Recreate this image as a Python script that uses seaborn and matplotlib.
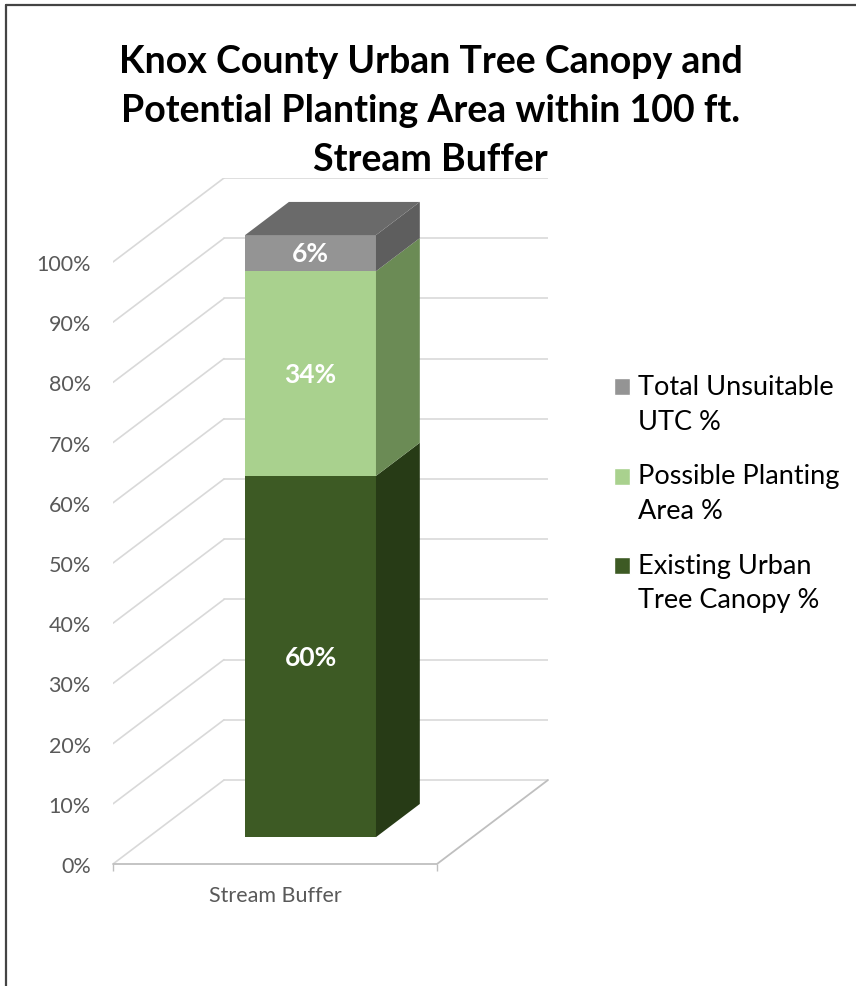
import numpy as np
import pandas as pd
import matplotlib
matplotlib.use("Agg")
import matplotlib.pyplot as plt
import seaborn as sns
from matplotlib.patches import Patch, Polygon, Rectangle
from matplotlib.lines import Line2D
from matplotlib.legend_handler import HandlerPatch

# data
CATEGORY = "Stream Buffer"
SERIES = ["Existing Urban\nTree Canopy %", "Possible Planting\nArea %", "Total Unsuitable\nUTC %"]
VALUES = [60, 34, 6]
LABELS = ["60%", "34%", "6%"]
YTICKS = [0, 10, 20, 30, 40, 50, 60, 70, 80, 90, 100]

FRONT = ["#3D5A24", "#A9D18E", "#949494"]
SIDE = ["#273B16", "#6B8B55", "#5E5E5E"]
TOP = "#6A6A6A"

# oblique "3-D" geometry (data units)
DEPTH_X = 0.3426          # full floor depth along x
DEPTH_Y = 13.95           # full floor depth along y
D0, D1 = 0.32, 0.715      # bar front / back depth fraction
BAR_W = 0.404

sns.set_style("white")
plt.rcParams["font.family"] = ["Lato", "DejaVu Sans"]

fig = plt.figure(figsize=(8.56, 9.87), dpi=100)
ax = fig.add_axes([113 / 856, 122 / 987, 435 / 856, 686 / 987])

df = pd.DataFrame({"cat": [CATEGORY] * 3, "series": SERIES, "value": VALUES})
df["top"] = df["value"].cumsum()
df["bottom"] = df["top"] - df["value"]

# stacked bars: draw cumulative totals, tallest first
for i in reversed(range(len(df))):
    sns.barplot(x=[CATEGORY], y=[df["top"].iloc[i]], color=FRONT[i], saturation=1,
                width=BAR_W, linewidth=0, ax=ax, zorder=3)

ax.set_xlim(-0.5, 0.5 + DEPTH_X)
ax.set_ylim(0, 100 + DEPTH_Y)

# push bar fronts back into the box
for p in ax.patches:
    p.set_x(p.get_x() + D0 * DEPTH_X)
    p.set_y(p.get_y() + D0 * DEPTH_Y)


def proj(x, y, d):
    return (x + d * DEPTH_X, y + d * DEPTH_Y)


# walls / gridlines
grid_c = "#D9D9D9"
for v in YTICKS:
    ax.plot([proj(-0.5, v, 1)[0], proj(0.5, v, 1)[0]], [v + DEPTH_Y] * 2, color=grid_c, lw=1.2, zorder=1)
    ax.plot([-0.5, proj(-0.5, v, 1)[0]], [v, v + DEPTH_Y], color=grid_c, lw=1.2, zorder=1)
ax.plot([-0.5, 0.5, proj(0.5, 0, 1)[0]], [0, 0, DEPTH_Y], color="#BFBFBF", lw=1.3, zorder=2,
        clip_on=False)

# side and top faces
xr = BAR_W / 2
xl = -BAR_W / 2
for i, row in df.iterrows():
    b, t = row["bottom"], row["top"]
    pts = [proj(xr, b, D0), proj(xr, t, D0), proj(xr, t, D1), proj(xr, b, D1)]
    ax.add_patch(Polygon(pts, closed=True, facecolor=SIDE[i], edgecolor="none", zorder=3))
top_v = df["top"].iloc[-1]
ax.add_patch(Polygon([proj(xl, top_v, D0), proj(xr, top_v, D0), proj(xr, top_v, D1), proj(xl, top_v, D1)],
                     closed=True, facecolor=TOP, edgecolor="none", zorder=3))

# value labels on the front face
for i, row in df.iterrows():
    x, y = proj(0, (row["bottom"] + row["top"]) / 2, D0)
    ax.text(x, y, LABELS[i], color="white", fontsize=19, fontweight="bold",
            ha="center", va="center", zorder=5)

for s in ax.spines.values():
    s.set_visible(False)
ax.grid(False)
ax.set_yticks(YTICKS)
ax.set_yticklabels([f"{v}%" for v in YTICKS])
ax.set_xticks([0])
ax.set_xticklabels([CATEGORY])
ax.set_xticks([-0.5, 0.5], minor=True)
ax.tick_params(axis="y", length=0, pad=16, labelsize=15.5, labelcolor="#595959")
ax.tick_params(axis="x", which="major", length=0, pad=15, labelsize=15.5, labelcolor="#595959")
ax.tick_params(axis="x", which="minor", length=5, width=1, color="#BFBFBF", direction="out")
ax.tick_params(axis="x", which="minor", bottom=True)
ax.set_xlabel("")
ax.set_ylabel("")


# legend squares sit on the first line of each label
def top_square(legend, orig_handle, xdescent, ydescent, width, height, fontsize):
    return Rectangle((-xdescent, -ydescent + 12.6), width, height)


handles = [Patch(facecolor=FRONT[i], label=SERIES[i]) for i in reversed(range(3))]
leg = fig.legend(handles=handles, loc="upper left", bbox_to_anchor=(614 / 856, 1 - 375 / 987),
                 frameon=False, fontsize=19.5, handlelength=0.6, handleheight=0.6,
                 handletextpad=0.3, labelspacing=1.1, borderpad=0, borderaxespad=0,
                 handler_map={Patch: HandlerPatch(patch_func=top_square)})
for t in leg.get_texts():
    t.set_linespacing(1.48)
    t.set_color("black")

fig.text(0.503, 1 - 45 / 987,
         "Knox County Urban Tree Canopy and\nPotential Planting Area within 100 ft.\nStream Buffer",
         ha="center", va="top", fontsize=27, fontweight="bold", color="black", linespacing=1.54)

# chart frame (only top and left edges visible)
fig.add_artist(Line2D([6 / 856, 1], [1 - 6 / 987] * 2, transform=fig.transFigure, color="#444444", lw=1.6))
fig.add_artist(Line2D([6 / 856] * 2, [0, 1 - 6 / 987], transform=fig.transFigure, color="#444444", lw=1.6))

fig.savefig("out.png", dpi=100)
